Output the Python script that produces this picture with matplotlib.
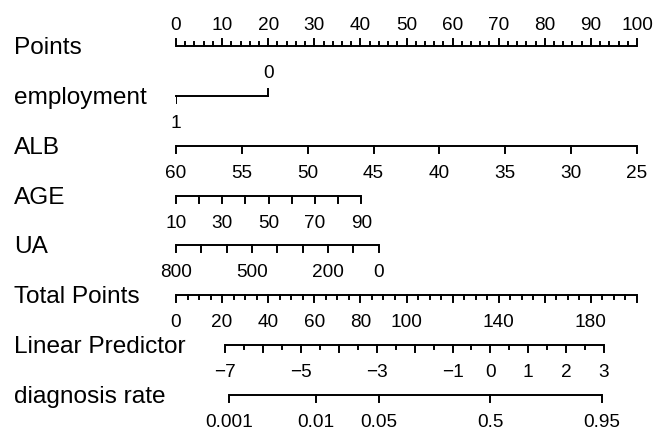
import numpy as np
import matplotlib.pyplot as plt
from matplotlib.transforms import blended_transform_factory

plt.rcParams['font.family'] = ['Liberation Sans', 'DejaVu Sans']

# rows of the nomogram, top to bottom
row_names = ['Points', 'employment', 'ALB', 'AGE', 'UA', 'Total Points',
             'Linear Predictor', 'diagnosis rate']

# points scale
points_labels = [0, 10, 20, 30, 40, 50, 60, 70, 80, 90, 100]

# employment (categorical): value -> points
employment_values = ['1', '0']
employment_points = [0, 20]

# ALB: 60 -> 0 points, 25 -> 100 points
alb_range = [60, 25]
alb_points = [0, 100]
alb_labels = [60, 55, 50, 45, 40, 35, 30, 25]

# AGE
age_range = [10, 90]
age_points = [0, 40.2]
age_ticks = [10, 20, 30, 40, 50, 60, 70, 80, 90]
age_labels = [10, 30, 50, 70, 90]

# UA
ua_range = [800, 0]
ua_points = [0, 44.0]
ua_ticks = [800, 700, 600, 500, 400, 300, 200, 100, 0]
ua_labels = [800, 500, 200, 0]

# total points
total_max = 200
total_major = [0, 20, 40, 60, 80, 100, 120, 140, 160, 180, 200]
total_labels = [0, 20, 40, 60, 80, 100, 140, 180]

# linear predictor: total points = lp_tp0 + lp_slope * lp
lp_tp0 = 136.4
lp_slope = 16.44
lp_ticks = [-7, -6, -5, -4, -3, -2, -1, 0, 1, 2, 3]
lp_labels = [-7, -5, -3, -1, 0, 1, 2, 3]

# diagnosis rate
risk_labels = ['0.001', '0.01', '0.05', '0.5', '0.95']

W, H = 654, 430
fig = plt.figure(figsize=(W / 100, H / 100), dpi=100)
row_px = 49.86
top_px = 46 - row_px / 2
ax = fig.add_axes([176 / W, (H - (top_px + 8 * row_px)) / H, 461 / W, 8 * row_px / H])
ax.set_xlim(0, 100)
ax.set_ylim(7.5, -0.5)
ax.axis('off')

LW = 1.4
MAJ = 7 / row_px
MIN = 4 / row_px
BELOW = 32 / row_px
ABOVE = 16.5 / row_px
TICK_FS = 13.7
NAME_FS = 17.6


def fmt(v):
    return str(v).replace('-', '\u2212')


def draw_scale(row, x0, x1, major, labels=None, minor=(), up=False, maj=MAJ):
    ax.plot([x0, x1], [row, row], color='black', lw=LW, solid_capstyle='butt', clip_on=False)
    d = -1 if up else 1
    for x in major:
        ax.plot([x, x], [row, row + d * maj], color='black', lw=LW, clip_on=False)
    for x in minor:
        ax.plot([x, x], [row, row + d * MIN], color='black', lw=LW, clip_on=False)
    if labels:
        for x, s in labels:
            if up:
                ax.text(x, row - ABOVE, s, ha='center', va='baseline', fontsize=TICK_FS)
            else:
                ax.text(x, row + BELOW, s, ha='center', va='baseline', fontsize=TICK_FS)


def to_pts(v, rng, pts):
    return np.interp(v, rng, pts) if rng[0] < rng[1] else np.interp(v, rng[::-1], pts[::-1])


# row 0: points
minor = [p for p in range(0, 101, 2) if p % 10]
draw_scale(0, 0, 100, points_labels, [(p, fmt(p)) for p in points_labels], minor, up=True)

# row 1: employment
ax.plot(employment_points, [1, 1], color='black', lw=LW, clip_on=False)
ax.plot([employment_points[0]] * 2, [1, 1 + MAJ], color='black', lw=LW)
ax.plot([employment_points[1]] * 2, [1, 1 - MAJ], color='black', lw=LW)
ax.text(employment_points[0], 1 + BELOW, employment_values[0], ha='center', va='baseline', fontsize=TICK_FS)
ax.text(employment_points[1], 1 - 18 / row_px, employment_values[1], ha='center', va='baseline', fontsize=TICK_FS)

# row 2: ALB
xs = [to_pts(v, alb_range, alb_points) for v in alb_labels]
draw_scale(2, xs[0], xs[-1], xs, [(x, fmt(v)) for x, v in zip(xs, alb_labels)])

# row 3: AGE
xs = [to_pts(v, age_range, age_points) for v in age_ticks]
draw_scale(3, min(xs), max(xs), xs,
           [(to_pts(v, age_range, age_points), fmt(v)) for v in age_labels])

# row 4: UA
xs = [to_pts(v, ua_range, ua_points) for v in ua_ticks]
draw_scale(4, min(xs), max(xs), xs,
           [(to_pts(v, ua_range, ua_points), fmt(v)) for v in ua_labels])

# row 5: total points
k = 100 / total_max
minor = [t * k for t in range(0, total_max + 1, 5) if t % 20]
draw_scale(5, 0, 100, [t * k for t in total_major],
           [(t * k, fmt(t)) for t in total_labels], minor)

# row 6: linear predictor
lp_x = lambda lp: (lp_tp0 + lp_slope * lp) * k
minor = [lp_x(v + 0.5) for v in lp_ticks[:-1]]
draw_scale(6, lp_x(lp_ticks[0]), lp_x(lp_ticks[-1]), [lp_x(v) for v in lp_ticks],
           [(lp_x(v), fmt(v)) for v in lp_labels], minor)

# row 7: diagnosis rate
xs = [lp_x(np.log(float(p) / (1 - float(p)))) for p in risk_labels]
draw_scale(7, xs[0], xs[-1], xs, list(zip(xs, risk_labels)))

# left-hand names
tr = blended_transform_factory(fig.transFigure, ax.transData)
for i, name in enumerate(row_names):
    ax.text(14 / W, i + 8 / row_px, name, transform=tr, ha='left', va='baseline', fontsize=NAME_FS)

fig.savefig('out.png', dpi=100, facecolor='white')
